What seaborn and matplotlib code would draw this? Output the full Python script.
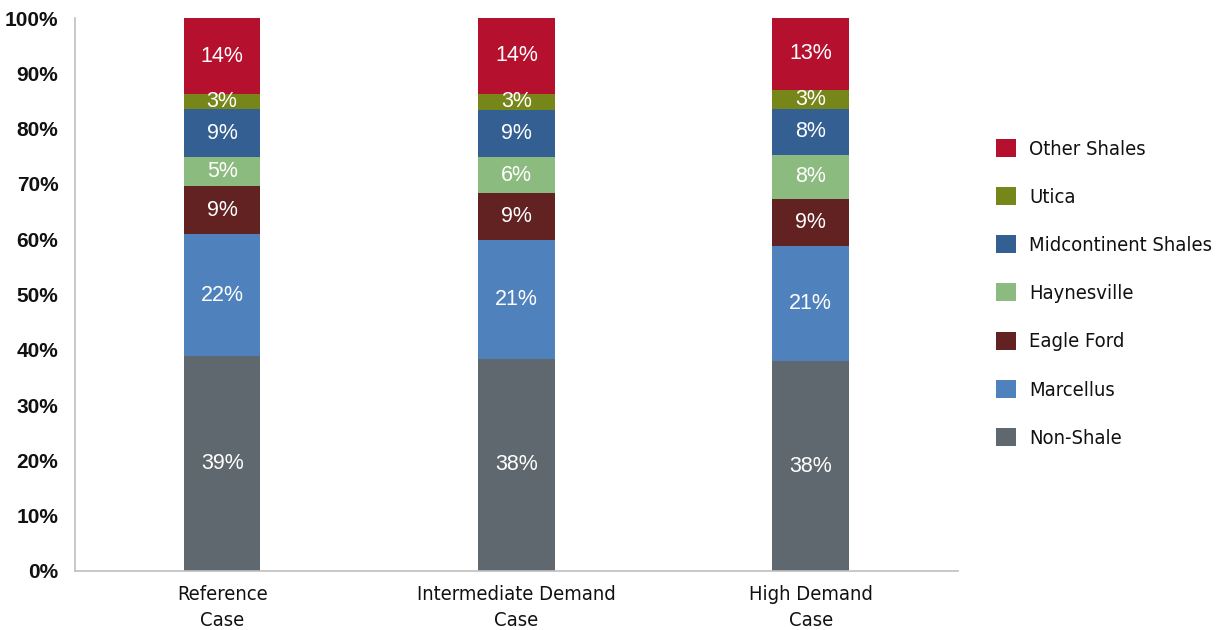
import pandas as pd
import seaborn as sns
import matplotlib.pyplot as plt
from matplotlib import font_manager

# Data (percent shares)
cases = ["Reference\nCase", "Intermediate Demand\nCase", "High Demand\nCase"]
non_shale = [38.8, 38.4, 37.9]
marcellus = [22.1, 21.4, 20.8]
eagle_ford = [8.7, 8.6, 8.6]
haynesville = [5.3, 6.4, 8.0]
midcontinent = [8.6, 8.6, 8.3]
utica = [2.7, 2.9, 3.4]
other_shales = [13.8, 13.7, 13.0]

series_names = ["Non-Shale", "Marcellus", "Eagle Ford", "Haynesville",
                "Midcontinent Shales", "Utica", "Other Shales"]
series_values = [non_shale, marcellus, eagle_ford, haynesville,
                 midcontinent, utica, other_shales]
colors = ["#5E686E", "#4F81BD", "#622222", "#8CBB7F",
          "#335F92", "#768618", "#B5112E"]

sns.set_style("white")
plt.rcParams["font.family"] = ["Liberation Sans", "DejaVu Sans"]

# condensed face for category and legend text
cond = font_manager.FontProperties(family="DejaVu Sans", stretch="condensed", size=14.5)

rows = []
for name, vals in zip(series_names, series_values):
    for case, v in zip(cases, vals):
        rows.append({"case": case, "series": name, "value": v})
df = pd.DataFrame(rows)
df["top"] = df.groupby("case", sort=False)["value"].cumsum()
df["bottom"] = df["top"] - df["value"]

fig = plt.figure(figsize=(12.26, 6.3), dpi=100)
ax = fig.add_axes([0.0612, 0.0937, 0.72, 0.8777])

# draw from the top segment down so each bar covers the one above it
for name, col in reversed(list(zip(series_names, colors))):
    sub = df[df["series"] == name]
    sns.barplot(data=sub, x="case", y="top", color=col, saturation=1,
                width=0.26, linewidth=0, label=name, ax=ax)

# segment labels
case_pos = {c: i for i, c in enumerate(cases)}
for _, r in df.iterrows():
    ax.text(case_pos[r["case"]], r["bottom"] + r["value"] / 2, f"{r['value']:.0f}%",
            ha="center", va="center", color="white", fontsize=15.5)

ax.set_xlim(-0.5, 2.5)
ax.set_ylim(0, 100)
ax.set_yticks(range(0, 101, 10))
ax.set_yticklabels([f"{t}%" for t in range(0, 101, 10)], fontsize=15, fontweight="bold",
                   color="#111111")
ax.set_xlabel("")
ax.set_ylabel("")

ax.set_xticks(range(len(cases)))
ax.set_xticklabels(cases, fontproperties=cond, color="#111111", linespacing=1.5)
ax.set_xticks([-0.5, 0.5, 1.5, 2.5], minor=True)
ax.tick_params(axis="x", which="major", length=0, pad=10)
ax.tick_params(axis="x", which="minor", length=7, width=1, color="#BFBFBF", direction="out")
ax.tick_params(axis="y", length=6, width=1, color="#BFBFBF", direction="out", pad=6)

for side in ["top", "right"]:
    ax.spines[side].set_visible(False)
for side in ["left", "bottom"]:
    ax.spines[side].set_color("#BFBFBF")
    ax.spines[side].set_linewidth(1.2)

handles, labels = ax.get_legend_handles_labels()
leg = ax.legend(handles, labels, loc="upper left", bbox_to_anchor=(0.7975, 0.808),
                bbox_transform=fig.transFigure, frameon=False, prop=cond,
                handlelength=1.0, handleheight=1.0, labelspacing=1.4, handletextpad=0.65)
for t in leg.get_texts():
    t.set_color("#111111")

fig.savefig("out.png", dpi=100)
